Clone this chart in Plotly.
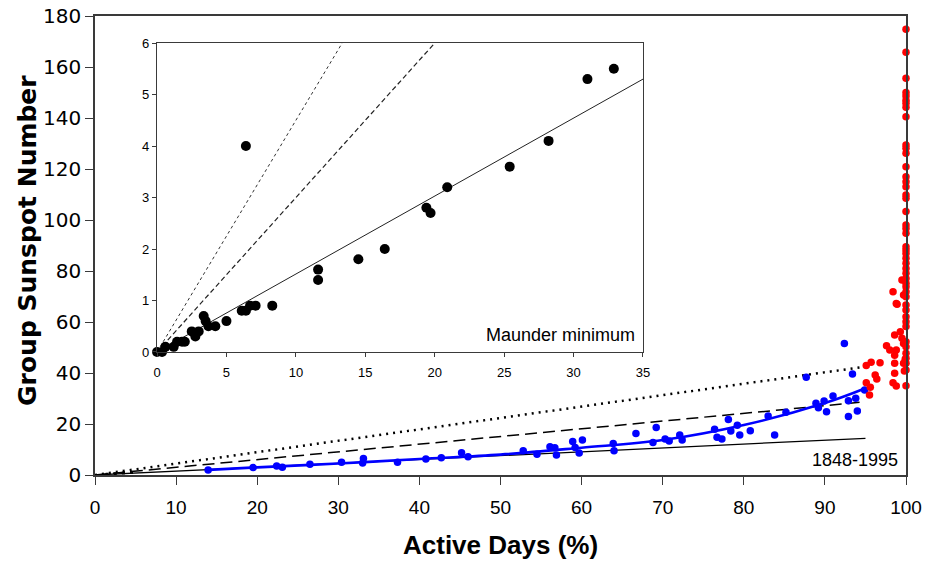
import plotly.graph_objects as go

# ---------------- data ----------------
# Main panel: 1848-1995 (blue) and high-activity (red) points
blue_x = [13.95, 19.5, 22.4, 23.1, 26.5, 30.4, 33.1, 33.0, 37.3, 40.8, 42.7, 45.2, 46.0,
          52.8, 54.5, 56.1, 56.7, 56.9, 58.9, 59.2, 59.7, 60.1, 63.9, 64.0, 66.7, 68.8,
          69.2, 70.3, 70.8, 72.1, 72.4, 76.4, 76.7, 77.3, 78.1, 78.4, 79.2, 79.5, 80.8,
          83.0, 83.8, 85.2, 87.7, 88.9, 89.2, 89.9, 90.2, 91.0, 92.9, 92.9, 93.4, 93.8,
          94.0, 94.9, 92.4]
blue_y = [2.0, 2.9, 3.5, 3.0, 4.2, 5.0, 6.5, 4.7, 5.0, 6.3, 6.8, 8.7, 7.2,
          9.5, 8.1, 11.1, 10.7, 7.8, 13.1, 10.8, 8.6, 13.7, 12.4, 9.5, 16.3, 12.7,
          18.6, 14.1, 13.3, 15.7, 13.7, 17.9, 14.8, 14.1, 21.8, 17.3, 19.5, 15.7, 17.4,
          23.1, 15.7, 24.6, 38.3, 28.1, 26.4, 29.0, 24.8, 31.0, 29.1, 22.9, 39.6, 30.1,
          25.1, 33.3, 51.6]

red_x = [100] * 46 + [99.5, 98.4, 98.8, 99.7, 98.9, 98.6, 99.3, 99.5, 97.6, 98.0, 98.8,
                      99.7, 98.6, 99.9, 98.6, 99.7, 96.8, 95.7, 95.1, 96.2, 96.4, 98.6,
                      99.8, 98.4, 98.8, 95.1, 95.6, 95.5]
red_y = [174.8, 165.8, 155.6, 150.0, 148.6, 147.0, 145.8, 144.2, 140.5, 129.4, 128.1,
         126.2, 120.9, 117.0, 115.0, 113.0, 109.8, 108.5, 103.3, 98.0, 96.7, 94.8, 89.5,
         88.2, 86.9, 85.0, 83.0, 81.0, 79.1, 77.1, 75.2, 73.8, 71.9, 69.9, 66.7, 64.7,
         62.1, 60.1, 58.2, 52.3, 50.3, 47.7, 45.8, 43.8, 41.2, 35.0,
         76.5, 71.9, 67.3, 70.6, 67.0, 54.9, 56.2, 53.6, 50.7, 49.0, 49.0,
         51.6, 47.0, 45.4, 43.8, 43.8, 44.0, 44.2, 42.9, 39.2, 37.6, 39.9,
         40.8, 36.2, 34.9, 36.2, 34.4, 31.4]

# small Maunder-minimum marks near the origin of the main panel
small_x = [1.5, 2.5, 3.5, 4.5]
small_y = [0.3, 0.5, 0.8, 1.0]

# fitted curve through the blue points
fit_x = [14, 20, 30, 40, 50, 60, 70, 80, 90, 95]
fit_y = [2.0, 3.0, 4.5, 6.3, 8.0, 10.7, 13.7, 19.6, 28.2, 34.0]

# reference lines of the main panel
line_x = [0, 95]
solid_y = [0, 14.4]
dash_y = [0, 28.7]
dot_y = [0, 42.5]

# Inset: Maunder minimum
inset_x = [0.0, 0.36, 0.6, 1.2, 1.44, 1.8, 2.0, 2.5, 2.76, 3.0, 3.36, 3.5, 3.7, 4.2,
           5.0, 6.1, 6.4, 6.7, 7.1, 8.3, 6.4, 11.6, 11.6, 14.5, 16.4, 19.4, 19.7,
           20.9, 25.4, 28.2, 31.0, 32.9]
inset_y = [0.0, 0.0, 0.1, 0.1, 0.2, 0.2, 0.2, 0.4, 0.3, 0.4, 0.7, 0.6, 0.5, 0.5,
           0.6, 0.8, 0.8, 0.9, 0.9, 0.9, 4.0, 1.6, 1.4, 1.8, 2.0, 2.8, 2.7,
           3.2, 3.6, 4.1, 5.3, 5.5]
inset_line_x = [0, 35]
inset_solid_y = [0, 5.3]
inset_dash_y = [0, 10.5]
inset_dot_y = [0, 15.75]

x_ticks = [0, 10, 20, 30, 40, 50, 60, 70, 80, 90, 100]
y_ticks = [0, 20, 40, 60, 80, 100, 120, 140, 160, 180]
inset_x_ticks = [0, 5, 10, 15, 20, 25, 30, 35]
inset_y_ticks = [0, 1, 2, 3, 4, 5, 6]

# ---------------- figure ----------------
fig = go.Figure()

# main panel lines
fig.add_trace(go.Scatter(x=line_x, y=dot_y, mode="lines",
                         line=dict(color="black", width=2.5, dash="2px,5px"), xaxis="x", yaxis="y"))
fig.add_trace(go.Scatter(x=line_x, y=dash_y, mode="lines",
                         line=dict(color="black", width=1.5, dash="12px,6px"), xaxis="x", yaxis="y"))
fig.add_trace(go.Scatter(x=line_x, y=solid_y, mode="lines",
                         line=dict(color="black", width=1.3), xaxis="x", yaxis="y"))
fig.add_trace(go.Scatter(x=small_x, y=small_y, mode="markers",
                         marker=dict(color="black", size=3, symbol="square"), xaxis="x", yaxis="y"))
fig.add_trace(go.Scatter(x=fit_x, y=fit_y, mode="lines",
                         line=dict(color="#0000FF", width=2.6, shape="spline"), xaxis="x", yaxis="y"))
fig.add_trace(go.Scatter(x=blue_x, y=blue_y, mode="markers",
                         marker=dict(color="#0000FF", size=7.5), xaxis="x", yaxis="y"))
fig.add_trace(go.Scatter(x=red_x, y=red_y, mode="markers",
                         marker=dict(color="#FF0000", size=7.5), xaxis="x", yaxis="y", cliponaxis=False))

# inset
fig.add_trace(go.Scatter(x=inset_line_x, y=inset_dot_y, mode="lines",
                         line=dict(color="#333333", width=1, dash="dot"), xaxis="x2", yaxis="y2"))
fig.add_trace(go.Scatter(x=inset_line_x, y=inset_dash_y, mode="lines",
                         line=dict(color="#222222", width=1.2, dash="5px,3px"), xaxis="x2", yaxis="y2"))
fig.add_trace(go.Scatter(x=inset_line_x, y=inset_solid_y, mode="lines",
                         line=dict(color="#222222", width=1), xaxis="x2", yaxis="y2"))
fig.add_trace(go.Scatter(x=inset_x, y=inset_y, mode="markers",
                         marker=dict(color="black", size=10), xaxis="x2", yaxis="y2", cliponaxis=False))

frame = "#3a3a3a"
fig.update_layout(
    width=930, height=561,
    margin=dict(l=95, r=24, t=16, b=86),
    paper_bgcolor="white", plot_bgcolor="white",
    showlegend=False,
    xaxis=dict(range=[0, 100], tickvals=x_ticks, showgrid=False, zeroline=False,
               showline=True, linecolor=frame, linewidth=1.5, mirror=True, automargin=False,
               ticks="outside", ticklen=8, tickcolor=frame, ticklabelstandoff=6,
               tickfont=dict(family="Liberation Sans, Arial", size=19, color="black")),
    yaxis=dict(range=[0, 180], tickvals=y_ticks, showgrid=False, zeroline=False,
               showline=True, linecolor=frame, linewidth=1.5, mirror=True, automargin=False,
               ticks="outside", ticklen=8, tickcolor=frame,
               tickfont=dict(family="DejaVu Sans", size=20, color="black")),
    xaxis2=dict(domain=[0.0765, 0.6757], anchor="y2", range=[0, 35], tickvals=inset_x_ticks,
                showgrid=False, zeroline=False, showline=True, linecolor=frame, linewidth=1.2,
                mirror=True, ticks="outside", ticklen=4, tickcolor=frame, automargin=False,
                ticklabelstandoff=4,
                tickfont=dict(family="Liberation Sans, Arial", size=13, color="black")),
    yaxis2=dict(domain=[0.268, 0.941], anchor="x2", range=[0, 6], tickvals=inset_y_ticks,
                showgrid=False, zeroline=False, showline=True, linecolor=frame, linewidth=1.2,
                mirror=True, ticks="outside", ticklen=4, tickcolor=frame, automargin=False,
                tickfont=dict(family="Liberation Sans, Arial", size=13, color="black")),
    annotations=[
        dict(text="<b>Group Sunspot Number</b>", xref="paper", yref="paper",
             x=-0.0826, y=0.51, textangle=-90, showarrow=False,
             xanchor="center", yanchor="middle",
             font=dict(family="DejaVu Sans", size=25, color="black")),
        dict(text="<b>Active Days (%)</b>", xref="paper", yref="paper",
             x=0.5, y=-0.1525, showarrow=False, xanchor="center", yanchor="middle",
             font=dict(family="Liberation Sans, Arial", size=26, color="black")),
        dict(text="Maunder minimum", xref="x2", yref="y2", x=34.6, y=0.1,
             xanchor="right", yanchor="bottom", showarrow=False,
             font=dict(family="Liberation Sans, Arial", size=18, color="black")),
        dict(text="1848-1995", xref="x", yref="y", x=99.3, y=1.0,
             xanchor="right", yanchor="bottom", showarrow=False,
             font=dict(family="Liberation Sans, Arial", size=18, color="black")),
    ],
)

fig.write_html("out.html", config={"displayModeBar": False},
               post_script="document.body.style.margin='0px';")
